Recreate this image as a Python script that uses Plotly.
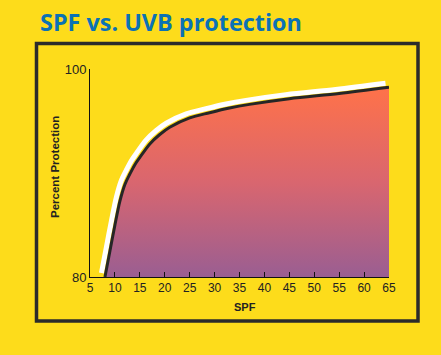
import plotly.graph_objects as go

# Data
spf = [8, 9, 10, 11, 12, 13, 14, 15, 17, 19, 21, 25, 29, 33, 37, 45, 55, 65]
protection = [80.0, 82.5, 85.0, 87.3, 88.9, 89.9, 90.8, 91.5, 92.8, 93.7, 94.4,
              95.3, 95.8, 96.25, 96.6, 97.15, 97.65, 98.25]
x_ticks = [5, 10, 15, 20, 25, 30, 35, 40, 45, 50, 55, 60, 65]
y_ticks = [80, 100]

BG = "#FDDC1B"
W, H = 441, 355
L, R, T, B = 90, 52, 69, 78
pw, ph = W - L - R, H - T - B
xr = [5, 65]
yr = [80, 100]
# highlight offset in pixels (left / up)
dxp, dyp = 3.5, 4.0
xs = dxp * (xr[1] - xr[0]) / pw
ys = dyp * (yr[1] - yr[0]) / ph

fig = go.Figure()

# white highlight line on hidden, shifted axes
fig.add_trace(go.Scatter(x=spf, y=protection, mode="lines",
                         line=dict(color="white", width=5, shape="spline", smoothing=0.9),
                         xaxis="x", yaxis="y", hoverinfo="skip", showlegend=False))

# filled area + black curve on the visible axes
fig.add_trace(go.Scatter(x=spf, y=protection, mode="lines",
                         line=dict(color="#262626", width=3, shape="spline", smoothing=0.9),
                         fill="tozeroy",
                         fillgradient=dict(type="vertical",
                                           colorscale=[[0, "#9A5E92"], [0.5, "#D9666F"], [1, "#FF7249"]],
                                           start=yr[0], stop=protection[-1]),
                         xaxis="x2", yaxis="y2", showlegend=False))

fig.update_layout(
    width=W, height=H,
    paper_bgcolor=BG, plot_bgcolor=BG,
    margin=dict(l=L, r=R, t=T, b=B),
    showlegend=False,
    title=dict(text="<b>SPF vs. UVB protection</b>", x=40 / W, xanchor="left",
               y=1 - 23 / H, yanchor="middle",
               font=dict(family="Open Sans", size=23.4, color="#0B72B5")),
    xaxis=dict(range=[xr[0] + xs, xr[1] + xs], visible=False, fixedrange=True),
    yaxis=dict(range=[yr[0] - ys, yr[1] - ys], visible=False, fixedrange=True),
    xaxis2=dict(range=xr, overlaying="x", anchor="y2", tickvals=x_ticks,
                ticks="inside", ticklen=5, tickcolor="#111", showline=True,
                linecolor="#111", linewidth=1, showgrid=False, zeroline=False,
                tickfont=dict(family="Liberation Sans", size=12, color="#222")),
    yaxis2=dict(range=yr, overlaying="y", anchor="x2", tickvals=y_ticks,
                ticks="inside", ticklen=6, tickcolor="#111", showline=True,
                linecolor="#111", linewidth=1, showgrid=False, zeroline=False,
                tickfont=dict(family="Liberation Sans", size=13, color="#222")),
    annotations=[
        dict(text="<b>SPF</b>", xref="paper", yref="paper", x=(245 - L) / pw,
             y=-(307 - (T + ph)) / ph, xanchor="center", yanchor="middle", showarrow=False,
             font=dict(family="Liberation Sans", size=11, color="#222")),
        dict(text="<b>Percent Protection</b>", xref="paper", yref="paper",
             x=(55 - L) / pw, y=((T + ph) - 167) / ph, xanchor="center", yanchor="middle",
             textangle=-90, showarrow=False,
             font=dict(family="Liberation Sans", size=11.5, color="#222")),
    ],
    shapes=[
        dict(type="rect", xref="paper", yref="paper",
             x0=(36.5 - L) / pw, x1=(418 - L) / pw,
             y0=((T + ph) - 321) / ph, y1=((T + ph) - 43.5) / ph,
             line=dict(color="#2B2B2B", width=3.5), fillcolor="rgba(0,0,0,0)", layer="below"),
    ],
)

fig.write_html("out.html", config={"displayModeBar": False},
               post_script="document.body.style.margin='0px';")
